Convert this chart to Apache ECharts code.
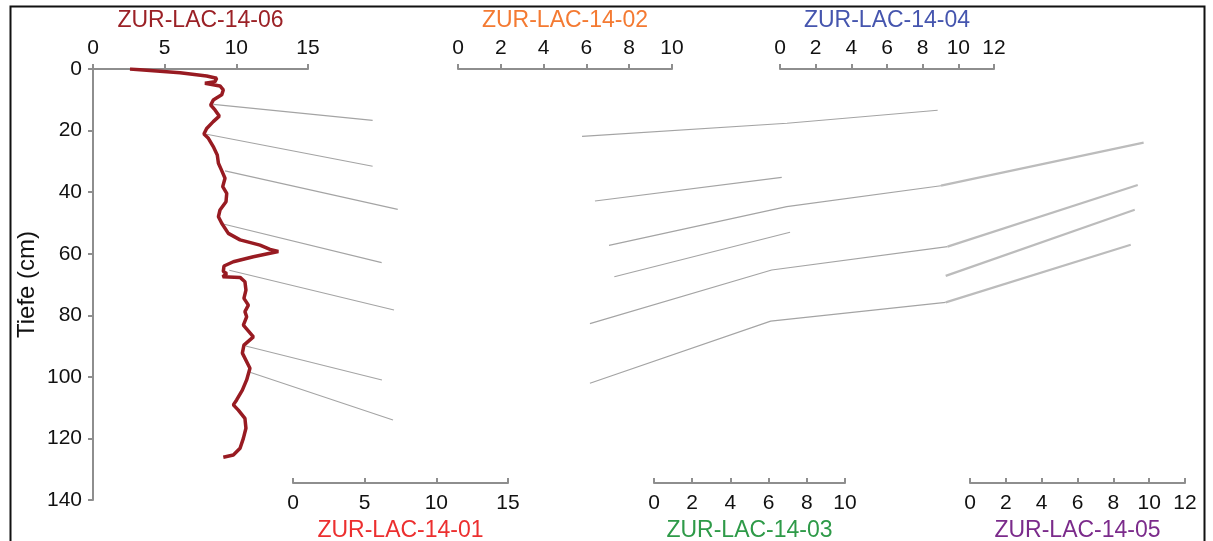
<!DOCTYPE html>
<html>
<head>
<meta charset="utf-8">
<script src="https://cdn.jsdelivr.net/npm/echarts@6/dist/echarts.min.js"></script>
<style>
html,body{margin:0;padding:0;background:#fff;}
#c{width:1213px;height:541px;}
</style>
</head>
<body>
<div id="c"></div>
<script>
// ---- data ----
const depthTicks = [0, 20, 40, 60, 80, 100, 120, 140];
// ZUR-LAC-14-06 profile: value and depth (cm)
const value06 = [2.58, 6.07, 7.93, 8.63, 8.51, 7.81, 8.86, 9.09, 8.98, 8.39, 8.21, 8.51, 8.81, 8.39, 7.93, 7.74, 8.05, 8.39, 8.67, 8.75, 8.98, 9.21, 9.05, 9.33, 9.28, 8.86, 8.75, 8.98, 9.44, 10.26, 11.65, 12.35, 12.93, 11.19, 9.79, 9.14, 9.09, 9.33, 9.05, 10.26, 10.60, 10.67, 10.53, 10.84, 10.60, 10.72, 10.49, 11.19, 10.53, 10.42, 10.95, 10.72, 10.42, 10.02, 9.79, 10.14, 10.60, 10.67, 10.49, 10.26, 9.79, 9.09];
const depth06 = [0.0, 1.2, 2.3, 3.0, 4.1, 4.6, 5.5, 6.8, 8.4, 10.1, 11.7, 13.3, 15.3, 17.1, 19.3, 21.1, 22.5, 25.2, 27.9, 30.6, 33.0, 35.5, 38.2, 40.4, 43.1, 45.8, 48.0, 50.1, 53.4, 55.5, 57.2, 58.6, 59.3, 61.0, 62.6, 64.0, 65.8, 66.4, 67.5, 67.7, 69.1, 71.8, 74.5, 76.7, 78.8, 80.5, 83.2, 87.0, 89.7, 92.3, 97.2, 101.0, 104.3, 107.5, 109.1, 110.8, 113.5, 116.7, 120.0, 123.2, 125.4, 126.1];

// correlation tie lines, as [position on the shared 14-06 scale, depth]
const tieThin = [
  [[8.39, 11.5], [19.51, 16.7]],
  [[7.93, 21.2], [19.51, 31.6]],
  [[9.21, 33.1], [21.26, 45.6]],
  [[9.16, 50.4], [20.14, 62.9]],
  [[9.51, 65.4], [21.00, 78.3]],
  [[10.65, 90.0], [20.16, 101.0]],
  [[10.95, 98.5], [20.93, 114.0]],
  [[34.12, 21.9], [48.42, 17.6], [58.93, 13.4]],
  [[35.02, 42.9], [48.05, 35.2]],
  [[36.00, 57.3], [48.40, 44.7], [59.16, 37.9]],
  [[36.37, 67.5], [48.63, 53.0]],
  [[34.67, 82.7], [47.35, 65.3], [59.62, 57.7]],
  [[34.67, 102.1], [47.28, 81.9], [59.49, 75.8]]
];
const tieThick = [
  [[59.16, 37.9], [73.30, 23.9]],
  [[59.62, 57.7], [72.89, 37.7]],
  [[59.49, 67.2], [72.68, 45.7]],
  [[59.49, 75.8], [72.40, 57.1]]
];

// panel axes
const panels = [
  {name: 'ZUR-LAC-14-06', max: 15, interval: 5, color: '#9b2126', pos: 'top',    left: 93,  width: 215},
  {name: 'ZUR-LAC-14-02', max: 10, interval: 2, color: '#f47a32', pos: 'top',    left: 458, width: 214},
  {name: 'ZUR-LAC-14-04', max: 12, interval: 2, color: '#4555ae', pos: 'top',    left: 780, width: 214},
  {name: 'ZUR-LAC-14-01', max: 15, interval: 5, color: '#ec2f2f', pos: 'bottom', left: 293, width: 215},
  {name: 'ZUR-LAC-14-03', max: 10, interval: 2, color: '#2e9a48', pos: 'bottom', left: 654, width: 191},
  {name: 'ZUR-LAC-14-05', max: 12, interval: 2, color: '#7b2b8b', pos: 'bottom', left: 970, width: 215}
];

// ---- chart ----
const FONT = 'Liberation Sans, Arial, sans-serif';
const TOP = 69, H = 431, BOTTOM_AXIS_Y = 483;
const axisGrey = '#8e8e8e';

const grid = [], xAxis = [], yAxis = [], series = [];

panels.forEach((p, i) => {
  const isTop = p.pos === 'top';
  grid.push({left: p.left, top: TOP, width: p.width, height: isTop ? H : (BOTTOM_AXIS_Y - TOP),
             containLabel: false, outerBoundsMode: 'none'});
  xAxis.push({
    gridIndex: i, type: 'value', position: p.pos, min: 0, max: p.max, interval: p.interval,
    name: p.name, nameLocation: 'middle', nameGap: isTop ? 37 : 29,
    nameTextStyle: {color: p.color, fontSize: 23, fontFamily: FONT},
    axisLine: {show: true, onZero: false, lineStyle: {color: axisGrey, width: 2}},
    axisTick: {show: true, inside: !isTop, length: 5, lineStyle: {color: axisGrey, width: 2}},
    axisLabel: {color: '#111', fontSize: 21, fontFamily: FONT, margin: 10},
    splitLine: {show: false}
  });
  if (i === 0) {
    yAxis.push({
      gridIndex: 0, type: 'value', inverse: true, min: 0, max: 140, interval: 20,
      name: 'Tiefe (cm)', nameLocation: 'middle', nameGap: 54, nameRotate: 90,
      nameTextStyle: {color: '#111', fontSize: 24, fontFamily: FONT},
      axisLine: {show: true, onZero: false, lineStyle: {color: axisGrey, width: 2}},
      axisTick: {show: true, length: 5, lineStyle: {color: axisGrey, width: 2}},
      axisLabel: {color: '#111', fontSize: 21, fontFamily: FONT, margin: 11},
      splitLine: {show: false}
    });
  } else {
    yAxis.push({gridIndex: i, type: 'value', show: false, min: 0, max: 1, splitLine: {show: false}});
  }
});

// overlay grid for tie lines (same depth scale, 14-06 horizontal scale extended)
const ov = grid.length;
grid.push({left: 93, top: TOP, width: 1075, height: H, containLabel: false, outerBoundsMode: 'none'});
xAxis.push({gridIndex: ov, type: 'value', show: false, min: 0, max: 75, splitLine: {show: false}});
yAxis.push({gridIndex: ov, type: 'value', show: false, inverse: true, min: 0, max: 140, splitLine: {show: false}});

tieThin.forEach(line => series.push({
  type: 'line', xAxisIndex: ov, yAxisIndex: ov, data: line, showSymbol: false, silent: true,
  lineStyle: {color: '#a4a4a4', width: 1.1}, z: 1
}));
tieThick.forEach(line => series.push({
  type: 'line', xAxisIndex: ov, yAxisIndex: ov, data: line, showSymbol: false, silent: true,
  lineStyle: {color: '#bcbcbc', width: 2.2}, z: 1
}));

series.push({
  type: 'line', name: 'ZUR-LAC-14-06', xAxisIndex: 0, yAxisIndex: 0,
  data: value06.map((v, i) => [v, depth06[i]]),
  showSymbol: false, lineStyle: {color: '#981b22', width: 3.5}, z: 5
});

const chart = echarts.init(document.getElementById('c'), null, {renderer: 'canvas'});
chart.setOption({
  animation: false,
  backgroundColor: '#fff',
  grid, xAxis, yAxis, series,
  graphic: [{
    type: 'rect', left: 8, top: 4, silent: true, z: 100,
    shape: {x: 0, y: 0, width: 1194, height: 545},
    style: {fill: 'none', stroke: '#111', lineWidth: 2}
  }]
});
</script>
</body>
</html>
